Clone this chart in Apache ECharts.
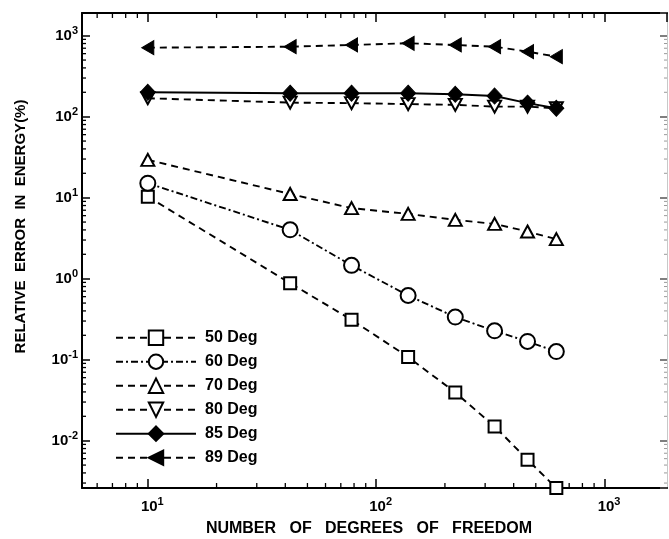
<!DOCTYPE html>
<html>
<head>
<meta charset="utf-8">
<script src="https://cdn.jsdelivr.net/npm/echarts@6/dist/echarts.min.js"></script>
<style>
html,body{margin:0;padding:0;background:#fff;}
#chart{width:669px;height:539px;}
</style>
</head>
<body>
<div id="chart"></div>
<script>
// ---- data ----
const dof = [10, 42, 78, 138, 222, 330, 460, 615];
const deg50 = [10.3, 0.88, 0.311, 0.108, 0.0394, 0.0150, 0.00583, 0.0026];
const deg60 = [15.1, 4.01, 1.46, 0.62, 0.336, 0.227, 0.168, 0.126];
const deg70 = [29.3, 11.1, 7.43, 6.31, 5.32, 4.75, 3.82, 3.08];
const deg80 = [169, 149, 147, 143, 140, 133, 133, 127];
const deg85 = [200, 195, 195, 195, 189, 180, 147, 127];
const deg89 = [711, 731, 768, 806, 768, 731, 635, 551];
const seriesNames = ['50 Deg', '60 Deg', '70 Deg', '80 Deg', '85 Deg', '89 Deg'];

// axis ranges and minor tick values
const X_MIN = 5.15, X_MAX = 1877;
const Y_MIN = 0.002606, Y_MAX = 1905;
const xMinorTicks = [6,7,8,9,20,30,40,50,60,70,80,90,200,300,400,500,600,700,800,900];
const yMinorTicks = [0.003,0.004,0.005,0.006,0.007,0.008,0.009,
  0.02,0.03,0.04,0.05,0.06,0.07,0.08,0.09,
  0.2,0.3,0.4,0.5,0.6,0.7,0.8,0.9,
  2,3,4,5,6,7,8,9,
  20,30,40,50,60,70,80,90,
  200,300,400,500,600,700,800,900];

const FONT = "'Liberation Sans', Arial, Helvetica, sans-serif";

function pairs(ys){ return dof.map((x,i)=>[x, ys[i]]); }

function powLabel(v){
  const e = Math.log10(v);
  const r = Math.round(e);
  if (Math.abs(e - r) > 1e-6) return '';
  return '{b|10}{s|' + r + '}';
}
const richLabel = {
  b: {fontFamily: FONT, fontSize: 15, fontWeight: 'bold', color: '#000'},
  s: {fontFamily: FONT, fontSize: 11, fontWeight: 'bold', color: '#000', padding: [0,0,10,0]}
};

const hollow = {color: '#fff', borderColor: '#000', borderWidth: 2};
const filled = {color: '#000', borderColor: '#000', borderWidth: 1};
const dashed = [7, 5];

function lineSeries(name, ys, symbol, size, rotate, itemStyle, lineType){
  return {
    type: 'line', name: name, data: pairs(ys),
    xAxisIndex: 0, yAxisIndex: 0,
    symbol: symbol, symbolSize: size, symbolRotate: rotate,
    showAllSymbol: true, clip: false,
    itemStyle: itemStyle,
    lineStyle: {color: '#000', width: 1.9, type: lineType},
    emphasis: {disabled: true},
    z: 3
  };
}

// minor ticks drawn through the axes' own scales
const tickData = xMinorTicks.map(v => [v, Y_MIN, 0]).concat(yMinorTicks.map(v => [X_MIN, v, 1]));

const chart = echarts.init(document.getElementById('chart'), null, {renderer: 'canvas'});
chart.setOption({
  animation: false,
  backgroundColor: '#fff',
  grid: {left: 82, right: 2, top: 13, bottom: 51, containLabel: false, outerBoundsMode: 'none'},
  legend: {
    orient: 'vertical', left: 110, top: 324.5,
    itemWidth: 80, itemHeight: 18, itemGap: 7.6,
    data: seriesNames,
    textStyle: {fontFamily: FONT, fontSize: 16, fontWeight: 'bold', color: '#000', padding: [0,0,0,4]},
    selectedMode: false
  },
  xAxis: [{
    type: 'log', logBase: 10, min: X_MIN, max: X_MAX, position: 'bottom',
    name: 'NUMBER   OF   DEGREES   OF   FREEDOM', nameLocation: 'middle', nameGap: 33,
    nameTextStyle: {fontFamily: FONT, fontSize: 16, fontWeight: 'bold', color: '#000', padding: [0,11,0,0]},
    axisLine: {show: true, onZero: false, lineStyle: {color: '#000', width: 2}},
    axisTick: {show: true, inside: true, length: 9, lineStyle: {color: '#000', width: 1.5}},
    axisLabel: {formatter: powLabel, rich: richLabel, margin: 8, padding: [0,0,0,9], showMinLabel: false, showMaxLabel: false},
    splitLine: {show: false}, minorTick: {show: false}
  }, {
    type: 'log', logBase: 10, min: X_MIN, max: X_MAX, position: 'top',
    axisLine: {show: true, onZero: false, lineStyle: {color: '#000', width: 2}},
    axisTick: {show: true, inside: true, length: 9, lineStyle: {color: '#000', width: 1.5}},
    axisLabel: {show: false}, splitLine: {show: false}
  }],
  yAxis: [{
    type: 'log', logBase: 10, min: Y_MIN, max: Y_MAX, position: 'left',
    name: 'RELATIVE  ERROR  IN  ENERGY(%)', nameLocation: 'middle', nameGap: 54,
    nameTextStyle: {fontFamily: FONT, fontSize: 15, fontWeight: 'bold', color: '#000', padding: [0,0,0,48]},
    axisLine: {show: true, onZero: false, lineStyle: {color: '#000', width: 2}},
    axisTick: {show: true, inside: true, length: 8, lineStyle: {color: '#000', width: 1.5}},
    axisLabel: {formatter: powLabel, rich: richLabel, margin: 4, showMinLabel: false, showMaxLabel: false},
    splitLine: {show: false}
  }, {
    type: 'log', logBase: 10, min: Y_MIN, max: Y_MAX, position: 'right',
    axisLine: {show: true, onZero: false, lineStyle: {color: '#c8c8c8', width: 1}},
    axisTick: {show: true, inside: true, length: 7, lineStyle: {color: '#555', width: 1.5}},
    axisLabel: {show: false}, splitLine: {show: false}
  }],
  series: [
    lineSeries('50 Deg', deg50, 'rect', 12, 0, hollow, dashed),
    lineSeries('60 Deg', deg60, 'circle', 15, 0, hollow, [7,3,2,3]),
    lineSeries('70 Deg', deg70, 'triangle', [13,12], 0, hollow, dashed),
    lineSeries('80 Deg', deg80, 'triangle', [13,12], 180, hollow, dashed),
    lineSeries('85 Deg', deg85, 'diamond', [15,16], 0, filled, 'solid'),
    lineSeries('89 Deg', deg89, 'triangle', [14,12], 90, filled, dashed),
    {
      type: 'custom', name: 'minorTicks', data: tickData,
      xAxisIndex: 0, yAxisIndex: 0, clip: false, silent: true, z: 1,
      renderItem: function(params, api){
        const kind = api.value(2);
        if (kind === 0) {
          const v = api.value(0);
          const b = api.coord([v, Y_MIN]);
          const t = api.coord([v, Y_MAX]);
          return {type: 'group', children: [
            {type: 'line', shape: {x1: b[0], y1: b[1], x2: b[0], y2: b[1] - 5}, style: {stroke: '#000', lineWidth: 1.3}},
            {type: 'line', shape: {x1: t[0], y1: t[1], x2: t[0], y2: t[1] + 5}, style: {stroke: '#000', lineWidth: 1.3}}
          ]};
        } else {
          const v = api.value(1);
          const l = api.coord([X_MIN, v]);
          const r = api.coord([X_MAX, v]);
          return {type: 'group', children: [
            {type: 'line', shape: {x1: l[0], y1: l[1], x2: l[0] + 4, y2: l[1]}, style: {stroke: '#000', lineWidth: 1.3}},
            {type: 'line', shape: {x1: r[0], y1: r[1], x2: r[0] - 3, y2: r[1]}, style: {stroke: '#999', lineWidth: 1}}
          ]};
        }
      }
    }
  ]
});
</script>
</body>
</html>
